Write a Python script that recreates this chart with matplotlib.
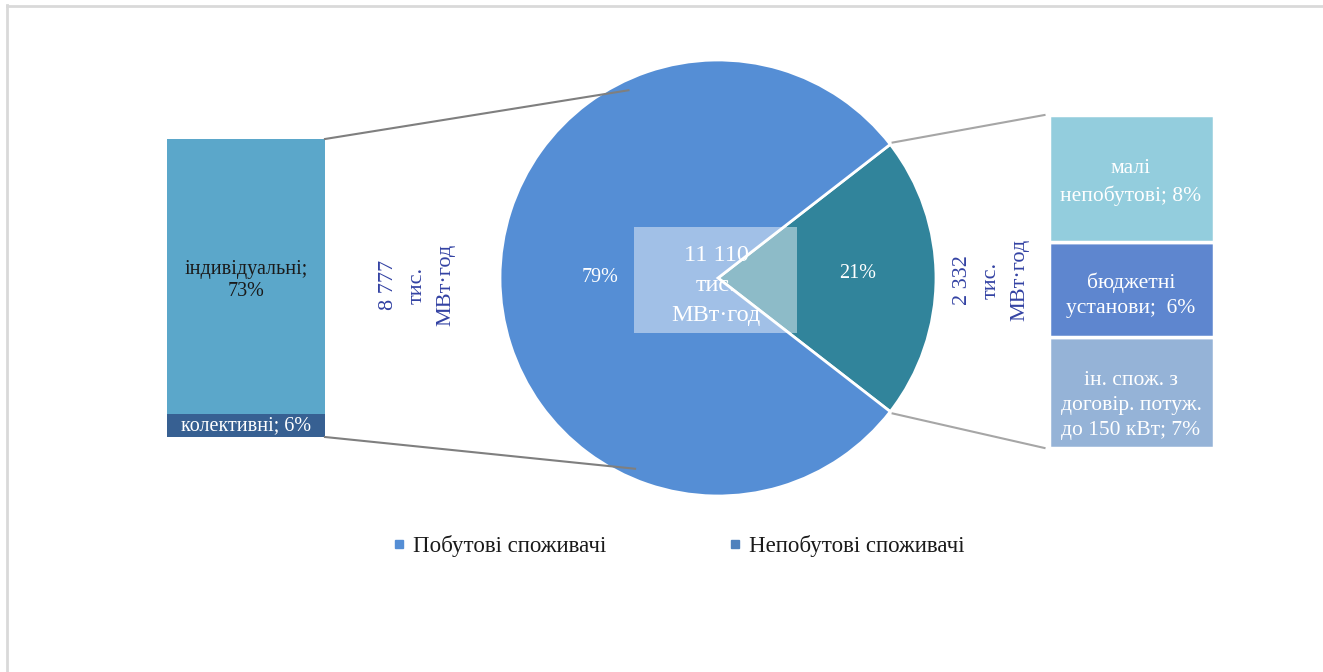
import numpy as np
import matplotlib
matplotlib.use("Agg")
import matplotlib.pyplot as plt
from matplotlib.patches import Rectangle
from matplotlib.lines import Line2D

plt.rcParams['font.family'] = ['Liberation Serif', 'DejaVu Serif']

# ---- data ----
pie_labels = ["Непобутові споживачі", "Побутові споживачі"]
pie_values = [21, 79]
pie_colors = ["#31849B", "#558ED5"]
total_label = "11 110\nтис.\nМВт·год"
household_total = "8 777\nтис.\nМВт·год"
nonhousehold_total = "2 332\nтис.\nМВт·год"

left_labels = ["колективні; 6%", "індивідуальні;\n73%"]
left_values = [6, 73]
left_colors = ["#376092", "#5BA7CA"]
left_text_colors = ["white", "#1a1a1a"]

right_labels = ["ін. спож. з\nдоговір. потуж.\nдо 150 кВт; 7%", "бюджетні\nустанови;  6%", "малі\nнепобутові; 8%"]
right_values = [7, 6, 8]
right_colors = ["#95B3D7", "#5E86CF", "#93CDDD"]

W, H = 1323, 672
fig = plt.figure(figsize=(W / 100, H / 100), dpi=100)
ax = fig.add_axes([0, 0, 1, 1])

def Y(y):
    return H - y

# ---- pie ----
cx, cy, R = 718, Y(278), 218
half = pie_values[0] / sum(pie_values) * 360 / 2
wedges, _ = ax.pie(pie_values, colors=pie_colors, startangle=-half, counterclock=True,
                   center=(cx, cy), radius=R,
                   wedgeprops=dict(edgecolor="white", linewidth=2))
ax.text(858, Y(274), f"{pie_values[0]}%", color="white", fontsize=14.5, ha="center", va="center")
ax.text(600, Y(277), f"{pie_values[1]}%", color="white", fontsize=14.5, ha="center", va="center")

# center box
ax.add_patch(Rectangle((634, Y(333)), 163, 106, facecolor="white", alpha=0.45, edgecolor="none", zorder=3))
ax.text(716, Y(285.5), total_label, color="white", fontsize=17.5, ha="center", va="center",
        linespacing=1.55, zorder=4)

# ---- left stacked bar ----
lx, lw_ = 246, 158
l_bottom, l_top = Y(437), Y(139)
l_scale = (l_top - l_bottom) / sum(left_values)
b = l_bottom
for val, col, lab, tc in zip(left_values, left_colors, left_labels, left_text_colors):
    h = val * l_scale
    ax.bar(lx, h, width=lw_, bottom=b, color=col, edgecolor="none")
    ax.text(lx, b + h / 2 + (0 if val < 10 else -4), lab, color=tc, fontsize=14.5,
            ha="center", va="center", linespacing=1.22)
    b += h

# ---- right stacked bar ----
rx, rw = 1131, 165
r_bottom, r_top = Y(448), Y(115)
r_scale = (r_top - r_bottom) / sum(right_values)
b = r_bottom
r_offsets = [-13, -6, -4]
for val, col, lab, off in zip(right_values, right_colors, right_labels, r_offsets):
    h = val * r_scale
    ax.bar(rx, h, width=rw, bottom=b, color=col, edgecolor="white", linewidth=2.5)
    ax.text(rx, b + h / 2 + off, lab, color="white", fontsize=15.5,
            ha="center", va="center", linespacing=1.45)
    b += h

# ---- connector lines ----
def pie_pt(ang, r):
    a = np.deg2rad(ang)
    return cx + r * np.cos(a), cy + r * np.sin(a)

p1 = pie_pt(115.5, 208)
p2 = pie_pt(246.5, 208)
ax.plot([p1[0], lx + lw_ / 2], [p1[1], l_top], color="#7F7F7F", lw=1.5)
ax.plot([p2[0], lx + lw_ / 2], [p2[1], l_bottom], color="#7F7F7F", lw=1.5)
q1 = pie_pt(half, R + 3)
q2 = pie_pt(-half, R + 3)
ax.plot([q1[0], rx - rw / 2 - 4], [q1[1], r_top], color="#A6A6A6", lw=1.5)
ax.plot([q2[0], rx - rw / 2 - 4], [q2[1], r_bottom], color="#A6A6A6", lw=1.5)

# ---- vertical total labels ----
ax.text(417, Y(285), household_total, color="#3342A3", fontsize=16, rotation=90,
        ha="center", va="center", linespacing=1.7, multialignment="center")
ax.text(991.5, Y(280), nonhousehold_total, color="#3342A3", fontsize=16, rotation=90,
        ha="center", va="center", linespacing=1.7, multialignment="center")

# ---- legend ----
handles = [Line2D([], [], marker="s", linestyle="none", markersize=6, color=pie_colors[1]),
           Line2D([], [], marker="s", linestyle="none", markersize=6, color="#4F81BD")]
leg = ax.legend(handles, [pie_labels[1], pie_labels[0]], ncol=2, frameon=False,
                loc="center", bbox_to_anchor=(679 / W, 1 - 546 / H), fontsize=16.5,
                handlelength=0.5, handletextpad=0.35, columnspacing=5.4)
for t in leg.get_texts():
    t.set_color("#1a1a1a")

# ---- frame lines ----
ax.plot([6.5, 6.5], [0, Y(5)], color="#D9D9D9", lw=2)
ax.plot([6.5, W], [Y(5.5), Y(5.5)], color="#D9D9D9", lw=2)

ax.set_xlim(0, W)
ax.set_ylim(0, H)
ax.set_aspect("equal")
ax.axis("off")

fig.savefig("out.png", dpi=100, facecolor="white")
